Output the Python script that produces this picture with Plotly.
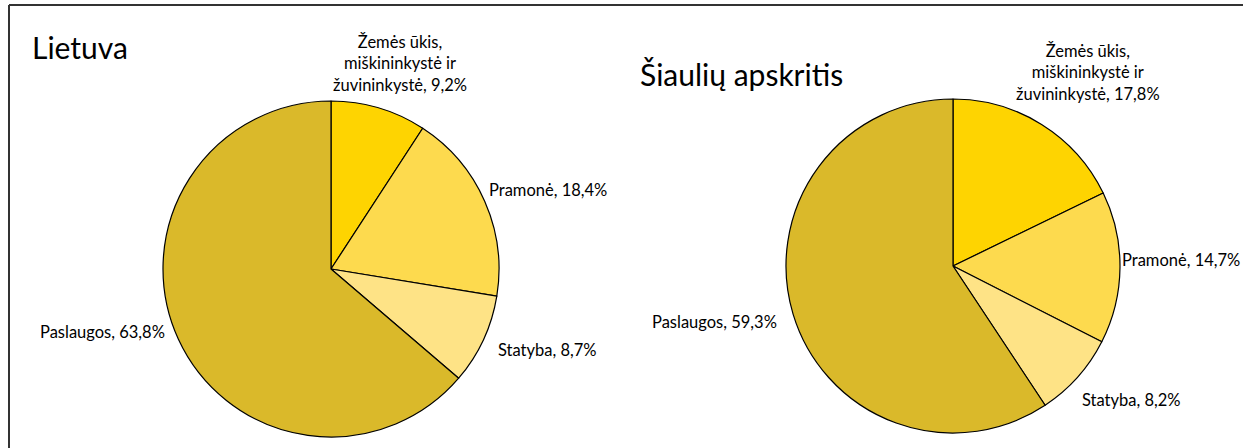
import plotly.graph_objects as go

categories = ["Žemės ūkis,<br>miškininkystė ir<br>žuvininkystė", "Pramonė", "Statyba", "Paslaugos"]
lietuva_values = [9.2, 18.4, 8.7, 63.8]
siauliai_values = [17.8, 14.7, 8.2, 59.3]
titles = ["Lietuva", "Šiaulių apskritis"]
colors = ["#FED401", "#FDDA4E", "#FEE386", "#DAB92A"]

W, H = 1243, 448
FONT = "Lato"

def fmt(v):
    return f"{v:.1f}".replace(".", ",") + "%"

fig = go.Figure()

def px(x):
    return x / W

def py(y):
    return 1 - y / H

domains = [
    dict(x=[px(163), px(499)], y=[py(437), py(101)]),
    dict(x=[px(786), px(1120)], y=[py(433), py(99)]),
]

for vals, dom in zip([lietuva_values, siauliai_values], domains):
    fig.add_trace(go.Pie(
        labels=[c.replace("<br>", " ") for c in categories],
        values=vals,
        sort=False,
        direction="clockwise",
        rotation=0,
        textinfo="none",
        hoverinfo="label+percent",
        marker=dict(colors=colors, line=dict(color="#000000", width=1.2)),
        domain=dom,
        showlegend=False,
    ))

# label positions (px) : (x, y, xanchor)
label_pos = [
    [(400, 64, "center"), (487, 190, "left"), (496, 350, "left"), (167, 332, "right")],
    [(1088, 72, "center"), (1120, 260, "left"), (1080, 400, "left"), (779, 322, "right")],
]
annotations = []
for vals, pos in zip([lietuva_values, siauliai_values], label_pos):
    for cat, v, (x, y, xa) in zip(categories, vals, pos):
        annotations.append(dict(
            x=px(x), y=py(y), xref="paper", yref="paper",
            text=f"{cat}, {fmt(v)}", showarrow=False,
            xanchor=xa, yanchor="middle", align="center",
            font=dict(family=FONT, size=16.5, color="#000000"),
        ))

title_pos = [(30, 47), (638, 74)]
for t, (x, y) in zip(titles, title_pos):
    annotations.append(dict(
        x=px(x), y=py(y), xref="paper", yref="paper", text=t,
        showarrow=False, xanchor="left", yanchor="middle",
        font=dict(family=FONT, size=30, color="#000000"),
    ))

shapes = [
    dict(type="line", xref="paper", yref="paper", x0=px(9), x1=1, y0=py(5), y1=py(5),
         line=dict(color="#333333", width=2)),
    dict(type="line", xref="paper", yref="paper", x0=px(9), x1=px(9), y0=py(5), y1=0,
         line=dict(color="#333333", width=2)),
]

fig.update_layout(
    width=W, height=H,
    margin=dict(l=0, r=0, t=0, b=0),
    paper_bgcolor="#ffffff",
    plot_bgcolor="#ffffff",
    annotations=annotations,
    shapes=shapes,
    font=dict(family=FONT),
)

fig.write_html("out.html",
               config={"displayModeBar": False},
               post_script="document.body.style.margin='0px';document.body.style.overflow='hidden';")
